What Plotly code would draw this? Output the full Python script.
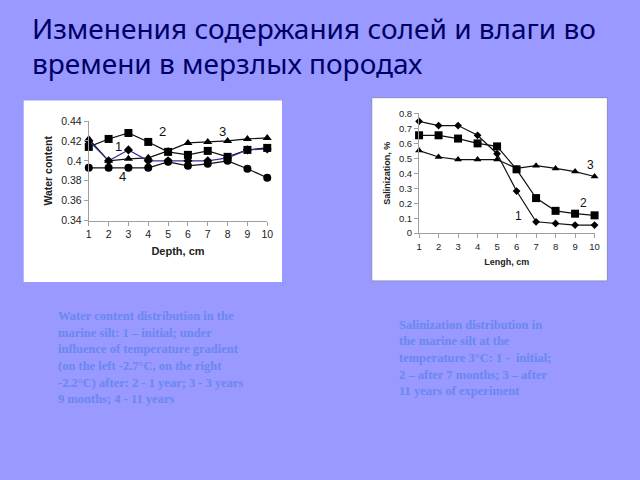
import plotly.graph_objects as go

# slide: "changes of salt and moisture content over time in frozen rocks"
TITLE_1 = "Изменения содержания солей и влаги во"
TITLE_2 = "времени в мерзлых породах"

depth = [1, 2, 3, 4, 5, 6, 7, 8, 9, 10]
water_1 = [0.420, 0.400, 0.411, 0.400, 0.400, 0.400, 0.400, 0.403, 0.411, 0.412]
water_2 = [0.414, 0.422, 0.428, 0.419, 0.409, 0.406, 0.410, 0.404, 0.411, 0.413]
water_3 = [0.422, 0.400, 0.402, 0.403, 0.410, 0.418, 0.419, 0.420, 0.422, 0.423]
water_4 = [0.393, 0.393, 0.393, 0.393, 0.399, 0.395, 0.397, 0.400, 0.392, 0.383]

length = [1, 2, 3, 4, 5, 6, 7, 8, 9, 10]
salt_1 = [0.746, 0.718, 0.718, 0.653, 0.530, 0.281, 0.076, 0.065, 0.054, 0.054]
salt_2 = [0.653, 0.653, 0.631, 0.599, 0.579, 0.426, 0.234, 0.149, 0.130, 0.119]
salt_3 = [0.551, 0.508, 0.491, 0.491, 0.491, 0.432, 0.450, 0.432, 0.411, 0.378]

left_caption = ["Water content distribution in the", "marine silt: 1 – initial; under",
                "influence of temperature gradient", "(on the left -2.7°C, on the right",
                "-2.2°C) after: 2 - 1 year; 3 - 3 years", "9 months; 4 - 11 years"]
right_caption = ["Salinization distribution in", "the marine silt at the",
                 "temperature 3°C: 1 -  initial;", "2 – after 7 months; 3 – after",
                 "11 years of experiment"]

BG = "#9999ff"
AX = "#a0a0a0"
SANS = "Liberation Sans, Arial, sans-serif"

fig = go.Figure()


def line(x, y, symbol, size, xa, ya, color="#111111"):
    fig.add_trace(go.Scatter(
        x=x, y=y, mode="lines+markers", xaxis=xa, yaxis=ya,
        line=dict(color=color, width=1.2),
        marker=dict(symbol=symbol, size=size, color="#000000"),
        cliponaxis=False, showlegend=False, hoverinfo="skip"))


# left chart - water content
line(depth, water_4, "circle", 8, "x", "y")
line(depth, water_3, "triangle-up", 8, "x", "y")
line(depth, water_2, "square", 8, "x", "y")
line(depth, water_1, "diamond", 7, "x", "y", color="#33339a")

# right chart - salinization
line(length, salt_3, "triangle-up", 7, "x2", "y2")
line(length, salt_2, "square", 8, "x2", "y2")
line(length, salt_1, "diamond", 6, "x2", "y2")

axis_common = dict(showgrid=False, zeroline=False, showline=True, linecolor=AX,
                   linewidth=1, ticks="outside", tickcolor=AX, ticklen=4,
                   tickfont=dict(family=SANS, color="#222222"))

fig.update_layout(
    width=640, height=480,
    paper_bgcolor=BG, plot_bgcolor="rgba(0,0,0,0)",
    margin=dict(l=0, r=0, t=0, b=0),
    xaxis=dict(**axis_common, domain=[87 / 640, 268 / 640], range=[1, 10],
               tickvals=depth, anchor="y",
               title=dict(text="<b>Depth, cm</b>", standoff=8,
                          font=dict(family=SANS, size=11, color="#222222"))),
    yaxis=dict(**axis_common, domain=[1 - 220 / 480, 1 - 118 / 480], range=[0.34, 0.44],
               tickvals=[0.34, 0.36, 0.38, 0.4, 0.42, 0.44],
               ticktext=["0.34", "0.36", "0.38", "0.4", "0.42", "0.44"], anchor="x",
               title=dict(text="<b>Water content</b>", standoff=6,
                          font=dict(family=SANS, size=10.5, color="#222222"))),
    xaxis2=dict(**axis_common, domain=[422 / 640, 600 / 640], range=[1, 10],
                tickvals=length, anchor="y2",
                title=dict(text="<b>Lengh, cm</b>", standoff=8,
                           font=dict(family=SANS, size=9, color="#222222"))),
    yaxis2=dict(**axis_common, domain=[1 - 233 / 480, 1 - 110 / 480], range=[0, 0.8],
                tickvals=[0, 0.1, 0.2, 0.3, 0.4, 0.5, 0.6, 0.7, 0.8],
                ticktext=["0", "0.1", "0.2", "0.3", "0.4", "0.5", "0.6", "0.7", "0.8"],
                anchor="x2",
                title=dict(text="<b>Salinization, %</b>", standoff=6,
                           font=dict(family=SANS, size=9, color="#222222"))),
)
fig.update_xaxes(tickfont_size=10.5, selector=dict(anchor="y"))
fig.update_yaxes(tickfont_size=10.5, selector=dict(anchor="x"))
fig.update_xaxes(tickfont_size=9.5, selector=dict(anchor="y2"))
fig.update_yaxes(tickfont_size=9.5, selector=dict(anchor="x2"))

# white chart panels
fig.add_shape(type="rect", xref="paper", yref="paper", layer="below",
              x0=21 / 640, x1=283 / 640, y0=1 - 283 / 480, y1=1 - 97 / 480,
              fillcolor="white", line=dict(width=0))
fig.add_shape(type="rect", xref="paper", yref="paper", layer="below",
              x0=374 / 640, x1=613 / 640, y0=1 - 282 / 480, y1=1 - 94 / 480,
              fillcolor="white", line=dict(color="#8a8ac8", width=1))

# series labels
for txt, x, y in [("1", 2.49, 0.414), ("2", 4.73, 0.429), ("3", 7.72, 0.429), ("4", 2.71, 0.384)]:
    fig.add_annotation(x=x, y=y, xref="x", yref="y", text=txt, showarrow=False,
                       font=dict(family=SANS, size=13, color="#111111"))
for txt, x, y in [("1", 6.12, 0.115), ("2", 9.41, 0.199), ("3", 9.78, 0.454)]:
    fig.add_annotation(x=x, y=y, xref="x2", yref="y2", text=txt, showarrow=False,
                       font=dict(family=SANS, size=12, color="#111111"))

# title, two lines
for txt, ypx in [(TITLE_1, 23), (TITLE_2, 58)]:
    fig.add_annotation(x=27 / 640, y=1 - ypx / 480, xref="paper", yref="paper",
                       xanchor="left", yanchor="middle", showarrow=False, text=txt,
                       font=dict(family="Noto Sans, sans-serif", size=28, color="#000066"))

# captions, line by line
cap_font = dict(family="Liberation Serif, Times New Roman, serif", size=12.5, color="#6a88f0")
for i, txt in enumerate(left_caption):
    fig.add_annotation(x=54 / 640, y=1 - (318 + i * 17.1) / 480, xref="paper", yref="paper",
                       xanchor="left", yanchor="middle", showarrow=False,
                       text="<b>" + txt + "</b>", font=cap_font)
for i, txt in enumerate(right_caption):
    fig.add_annotation(x=400 / 640, y=1 - (327 + i * 17) / 480, xref="paper", yref="paper",
                       xanchor="left", yanchor="middle", showarrow=False,
                       text="<b>" + txt + "</b>", font=cap_font)

fig.write_html("out.html", config={"displayModeBar": False},
               post_script="document.body.style.margin='0';")
